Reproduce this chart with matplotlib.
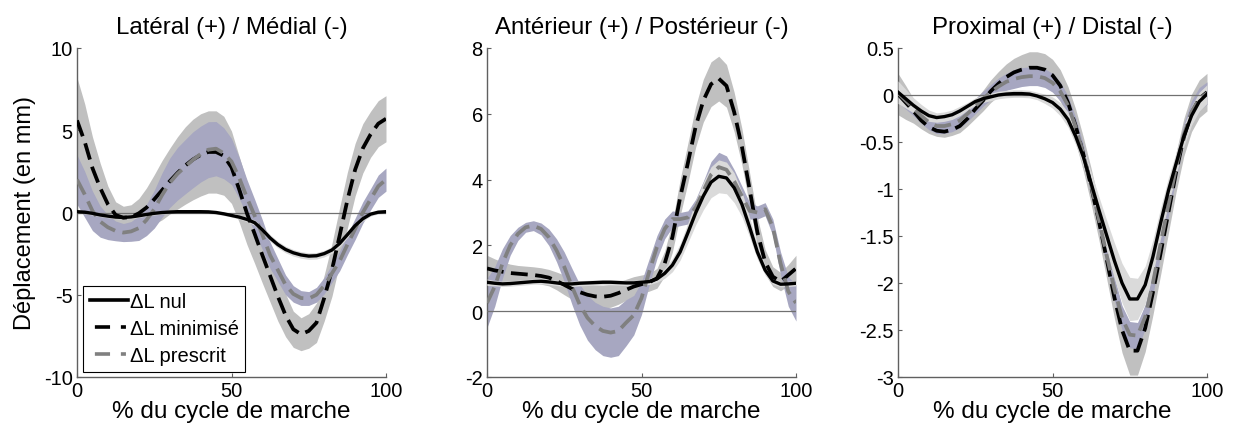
import numpy as np
import matplotlib
matplotlib.use("Agg")
import matplotlib.pyplot as plt
from matplotlib.lines import Line2D

plt.rcParams['font.family'] = ['Liberation Sans', 'DejaVu Sans']

# ---------------- data ----------------
x = [0, 2.5, 5, 7.5, 10, 12.5, 15, 17.5, 20, 22.5, 25, 27.5, 30, 32.5, 35, 37.5, 40,
     42.5, 45, 47.5, 50, 52.5, 55, 57.5, 60, 62.5, 65, 67.5, 70, 72.5, 75, 77.5, 80,
     82.5, 85, 87.5, 90, 92.5, 95, 97.5, 100]

titles = ["Latéral (+) / Médial (-)", "Antérieur (+) / Postérieur (-)", "Proximal (+) / Distal (-)"]
xlabel = "% du cycle de marche"
ylabel = "Déplacement (en mm)"
legend_labels = ["\u0394L nul", "\u0394L minimisé", "\u0394L prescrit"]

# Panel 1 : Latéral / Médial
nul1 = [0.05, 0.02, -0.05, -0.15, -0.22, -0.28, -0.3, -0.27, -0.2, -0.12, -0.05, 0.0, 0.03,
        0.05, 0.05, 0.05, 0.05, 0.04, 0.0, -0.08, -0.18, -0.28, -0.42, -0.62, -1.05, -1.55,
        -1.95, -2.25, -2.45, -2.58, -2.65, -2.63, -2.5, -2.28, -1.88, -1.35, -0.8, -0.38,
        -0.1, 0.02, 0.05]
min1 = [5.6, 4.3, 2.7, 1.5, 0.5, -0.15, -0.32, -0.28, -0.05, 0.3, 0.8, 1.35, 1.9, 2.4, 2.85,
        3.22, 3.5, 3.68, 3.68, 3.45, 2.75, 1.4, -0.05, -1.3, -2.6, -3.85, -5.1, -6.25, -7.1,
        -7.4, -7.2, -6.7, -5.2, -3.5, -1.4, 0.75, 2.6, 3.9, 4.75, 5.4, 5.7]
pre1 = [2.0, 1.1, 0.1, -0.55, -0.9, -1.12, -1.22, -1.15, -0.95, -0.45, 0.2, 1.05, 1.8, 2.35,
        2.78, 3.2, 3.55, 3.82, 3.88, 3.6, 3.1, 2.1, 0.9, -0.2, -1.35, -2.6, -3.5, -4.4, -4.95,
        -5.2, -5.23, -5.0, -4.45, -3.7, -2.95, -1.95, -1.0, 0.0, 0.8, 1.6, 2.0]
sd_nul1 = [0.1, 0.1, 0.1, 0.1, 0.1, 0.1, 0.1, 0.1, 0.1, 0.1, 0.1, 0.1, 0.1, 0.1, 0.1, 0.1, 0.1,
           0.1, 0.1, 0.1, 0.1, 0.12, 0.14, 0.16, 0.18, 0.2, 0.2, 0.2, 0.2, 0.2, 0.2, 0.2, 0.2,
           0.2, 0.2, 0.18, 0.16, 0.14, 0.12, 0.1, 0.1]
sd_min1 = [2.6, 2.3, 1.9, 1.5, 1.1, 0.8, 0.7, 0.75, 0.9, 1.2, 1.5, 1.8, 2.0, 2.2, 2.35, 2.45,
           2.5, 2.5, 2.5, 2.4, 2.2, 2.0, 1.9, 1.8, 1.7, 1.6, 1.5, 1.3, 1.1, 1.0, 1.05, 1.2, 1.4,
           1.6, 1.7, 1.7, 1.6, 1.5, 1.4, 1.4, 1.4]
sd_pre1 = [1.5, 1.4, 1.2, 0.95, 0.75, 0.6, 0.55, 0.6, 0.75, 0.95, 1.15, 1.35, 1.5, 1.6, 1.65,
           1.7, 1.7, 1.7, 1.65, 1.55, 1.4, 1.25, 1.1, 1.0, 0.9, 0.8, 0.7, 0.6, 0.5, 0.45, 0.42,
           0.45, 0.5, 0.55, 0.6, 0.62, 0.65, 0.65, 0.65, 0.68, 0.7]

# Panel 2 : Antérieur / Postérieur
nul2 = [0.88, 0.85, 0.83, 0.84, 0.86, 0.88, 0.9, 0.91, 0.89, 0.86, 0.83, 0.83, 0.85, 0.86,
        0.87, 0.88, 0.88, 0.87, 0.86, 0.86, 0.88, 0.9, 0.98, 1.15, 1.4, 1.8, 2.38, 2.98, 3.5,
        3.92, 4.1, 4.05, 3.75, 3.25, 2.55, 1.8, 1.25, 0.92, 0.82, 0.83, 0.85]
min2 = [1.3, 1.24, 1.2, 1.16, 1.14, 1.12, 1.1, 1.07, 1.02, 0.92, 0.8, 0.68, 0.58, 0.5, 0.45,
        0.44, 0.47, 0.55, 0.65, 0.75, 0.82, 0.88, 1.0, 1.45, 2.25, 3.45, 4.5, 5.6, 6.4, 6.9,
        7.07, 6.85, 6.05, 5.0, 3.7, 2.4, 1.5, 1.05, 0.9, 1.1, 1.3]
pre2 = [0.25, 0.75, 1.45, 2.0, 2.35, 2.55, 2.6, 2.5, 2.25, 1.85, 1.35, 0.75, 0.2, -0.2, -0.45,
        -0.6, -0.65, -0.6, -0.35, -0.12, 0.4, 1.2, 1.95, 2.5, 2.8, 2.8, 2.85, 3.15, 3.65, 4.15,
        4.38, 4.3, 3.95, 3.5, 3.05, 3.0, 3.1, 2.55, 1.45, 0.6, 0.25]
sd_nul2 = [0.1, 0.08, 0.08, 0.08, 0.08, 0.08, 0.08, 0.08, 0.08, 0.08, 0.08, 0.08, 0.08, 0.08,
           0.08, 0.08, 0.08, 0.08, 0.08, 0.08, 0.08, 0.09, 0.1, 0.15, 0.2, 0.25, 0.3, 0.36,
           0.42, 0.47, 0.5, 0.48, 0.45, 0.38, 0.3, 0.22, 0.15, 0.1, 0.08, 0.08, 0.08]
sd_min2 = [0.4, 0.35, 0.3, 0.27, 0.25, 0.25, 0.25, 0.25, 0.25, 0.27, 0.3, 0.32, 0.33, 0.34,
           0.35, 0.35, 0.35, 0.34, 0.32, 0.3, 0.28, 0.27, 0.3, 0.38, 0.45, 0.55, 0.6, 0.62,
           0.65, 0.68, 0.68, 0.65, 0.6, 0.55, 0.5, 0.45, 0.38, 0.3, 0.28, 0.32, 0.4]
sd_pre2 = [0.75, 0.6, 0.45, 0.3, 0.2, 0.15, 0.15, 0.18, 0.25, 0.35, 0.45, 0.55, 0.62, 0.68,
           0.72, 0.75, 0.75, 0.75, 0.7, 0.6, 0.5, 0.4, 0.35, 0.3, 0.25, 0.2, 0.2, 0.25, 0.3,
           0.4, 0.45, 0.42, 0.35, 0.3, 0.25, 0.2, 0.2, 0.25, 0.35, 0.45, 0.55]

# Panel 3 : Proximal / Distal
nul3 = [0.03, -0.04, -0.11, -0.17, -0.22, -0.24, -0.23, -0.21, -0.17, -0.12, -0.07, -0.04,
        -0.02, 0.0, 0.01, 0.015, 0.015, 0.01, -0.01, -0.04, -0.08, -0.15, -0.26, -0.44, -0.66,
        -0.94, -1.22, -1.49, -1.76, -2.0, -2.17, -2.17, -2.02, -1.72, -1.36, -1.02, -0.73,
        -0.44, -0.22, -0.07, 0.01]
min3 = [0.01, -0.08, -0.17, -0.27, -0.34, -0.38, -0.39, -0.37, -0.33, -0.25, -0.15, -0.06,
        0.04, 0.12, 0.19, 0.24, 0.27, 0.29, 0.29, 0.27, 0.21, 0.1, -0.08, -0.33, -0.63, -0.97,
        -1.34, -1.74, -2.15, -2.5, -2.72, -2.72, -2.48, -2.1, -1.68, -1.25, -0.82, -0.45,
        -0.19, -0.04, 0.03]
pre3 = [0.02, -0.06, -0.14, -0.22, -0.29, -0.33, -0.33, -0.31, -0.27, -0.2, -0.12, -0.04,
        0.03, 0.09, 0.14, 0.17, 0.19, 0.2, 0.2, 0.18, 0.13, 0.04, -0.11, -0.34, -0.63, -0.96,
        -1.32, -1.7, -2.06, -2.37, -2.55, -2.56, -2.36, -2.0, -1.58, -1.17, -0.77, -0.42,
        -0.18, -0.04, 0.02]
sd_nul3 = [0.12, 0.1, 0.08, 0.07, 0.06, 0.05, 0.05, 0.05, 0.05, 0.04, 0.04, 0.04, 0.04, 0.04,
           0.04, 0.04, 0.04, 0.04, 0.04, 0.05, 0.06, 0.07, 0.08, 0.09, 0.1, 0.12, 0.14, 0.16,
           0.19, 0.21, 0.23, 0.22, 0.2, 0.18, 0.16, 0.14, 0.12, 0.11, 0.1, 0.1, 0.1]
sd_min3 = [0.22, 0.18, 0.13, 0.09, 0.07, 0.06, 0.06, 0.06, 0.07, 0.08, 0.1, 0.11, 0.12, 0.13,
           0.14, 0.15, 0.16, 0.17, 0.17, 0.17, 0.17, 0.17, 0.17, 0.18, 0.18, 0.19, 0.2, 0.21,
           0.22, 0.24, 0.26, 0.26, 0.25, 0.24, 0.23, 0.22, 0.21, 0.2, 0.2, 0.2, 0.2]
sd_pre3 = [0.1, 0.09, 0.08, 0.08, 0.08, 0.08, 0.08, 0.08, 0.08, 0.08, 0.08, 0.08, 0.08, 0.09,
           0.09, 0.1, 0.1, 0.1, 0.1, 0.1, 0.1, 0.1, 0.1, 0.1, 0.1, 0.11, 0.11, 0.12, 0.12,
           0.13, 0.14, 0.14, 0.13, 0.12, 0.12, 0.12, 0.12, 0.12, 0.12, 0.12, 0.12]

panels = [
    dict(nul=nul1, mini=min1, pre=pre1, s_nul=sd_nul1, s_min=sd_min1, s_pre=sd_pre1,
         ylim=(-10, 10), yticks=[-10, -5, 0, 5, 10], yticklabels=["-10", "-5", "0", "5", "10"]),
    dict(nul=nul2, mini=min2, pre=pre2, s_nul=sd_nul2, s_min=sd_min2, s_pre=sd_pre2,
         ylim=(-2, 8), yticks=[-2, 0, 2, 4, 6, 8], yticklabels=["-2", "0", "2", "4", "6", "8"]),
    dict(nul=nul3, mini=min3, pre=pre3, s_nul=sd_nul3, s_min=sd_min3, s_pre=sd_pre3,
         ylim=(-3, 0.5), yticks=[-3, -2.5, -2, -1.5, -1, -0.5, 0, 0.5],
         yticklabels=["-3", "-2.5", "-2", "-1.5", "-1", "-0.5", "0", "0.5"]),
]
xticks = [0, 50, 100]
xticklabels = ["0", "50", "100"]

# ---------------- styles ----------------
W, H = 1234, 435
fig = plt.figure(figsize=(W / 100, H / 100), dpi=100)
lefts = [77, 487, 898]
ax_w = 309
ax_top, ax_bot = 49, 378

c_min_band = "#c0c0c0"
c_pre_band = "#a7a7c1"
c_nul_band = "#dadada"
axis_col = "#606060"
dash = (0, (4.5, 2))
leg_dash = (9.2, (4.2, 3.0, 1.4, 1.95))

xa = np.array(x)
for i, p in enumerate(panels):
    ax = fig.add_axes([lefts[i] / W, (H - ax_bot) / H, ax_w / W, (ax_bot - ax_top) / H])
    m = np.array(p['mini']); s = np.array(p['s_min'])
    ax.fill_between(xa, m - s, m + s, color=c_min_band, lw=0, zorder=1)
    m = np.array(p['pre']); s = np.array(p['s_pre'])
    ax.fill_between(xa, m - s, m + s, color=c_pre_band, lw=0, zorder=2)
    m = np.array(p['nul']); s = np.array(p['s_nul'])
    ax.fill_between(xa, m - s, m + s, color=c_nul_band, lw=0, zorder=3)
    ax.axhline(0, color="#707070", lw=0.9, zorder=4)
    ax.plot(xa, p['nul'], color="black", lw=2.4, zorder=6)
    ax.plot(xa, p['mini'], color="black", lw=2.7, ls=dash, zorder=5)
    ax.plot(xa, p['pre'], color="#808080", lw=2.7, ls=dash, zorder=5)
    ax.set_xlim(0, 100)
    ax.set_ylim(*p['ylim'])
    ax.set_xticks(xticks)
    ax.set_xticklabels(xticklabels)
    ax.set_yticks(p['yticks'])
    ax.set_yticklabels(p['yticklabels'])
    for sp in ['top', 'right']:
        ax.spines[sp].set_visible(False)
    for sp in ['left', 'bottom']:
        ax.spines[sp].set_color(axis_col)
        ax.spines[sp].set_linewidth(1.0)
    ax.tick_params(direction='in', length=3, width=0.8, color=axis_col, labelsize=14.5,
                   labelcolor='black', pad=3)
    ax.set_title(titles[i], fontsize=17.3, pad=11)
    ax.set_xlabel(xlabel, fontsize=17.5, labelpad=0)
    if i == 0:
        ax.set_ylabel(ylabel, fontsize=17, labelpad=6)
        hs = [Line2D([], [], color="black", lw=2.6),
              Line2D([], [], color="black", lw=2.6, ls=leg_dash),
              Line2D([], [], color="#808080", lw=2.6, ls=leg_dash)]
        leg = ax.legend(handles=hs, labels=legend_labels, loc='lower left',
                        bbox_to_anchor=(0.019, 0.015), fontsize=14.5, frameon=True,
                        fancybox=False, edgecolor='black', framealpha=1,
                        handlelength=1.9, handletextpad=0.1, borderpad=0.33,
                        labelspacing=0.4, borderaxespad=0)
        leg.get_frame().set_linewidth(0.8)
        leg.set_zorder(10)

fig.savefig("out.png", dpi=100)
